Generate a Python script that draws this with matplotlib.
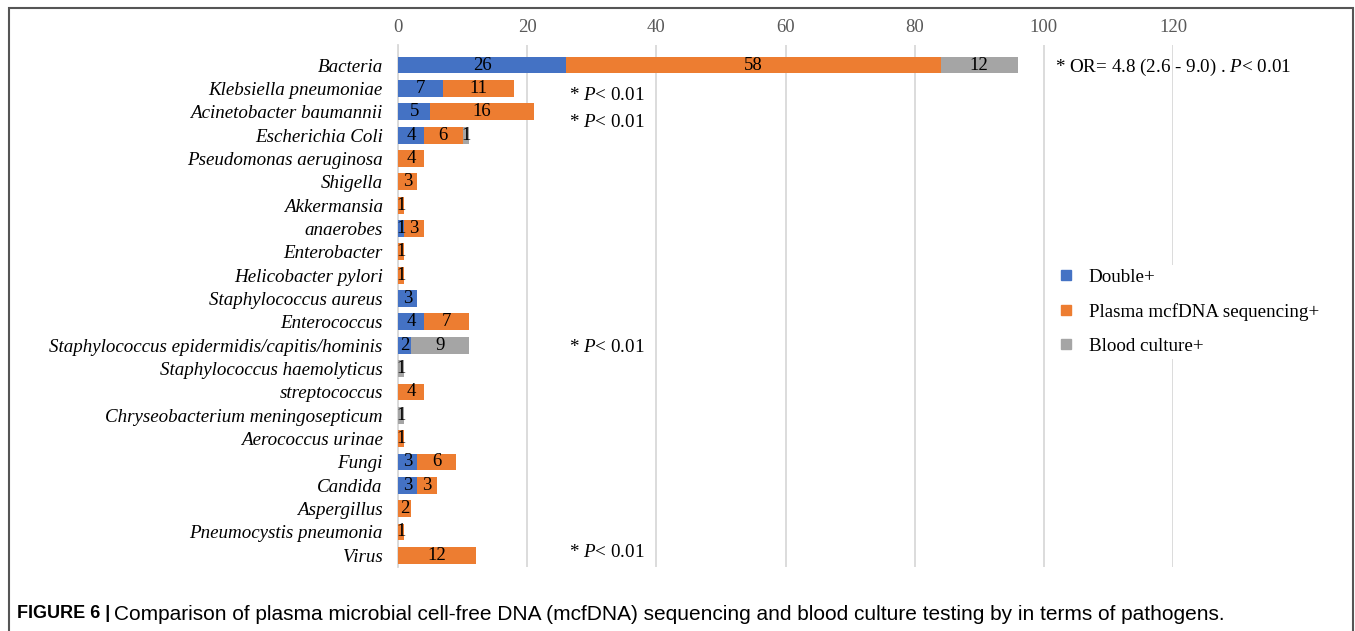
import numpy as np
import matplotlib.pyplot as plt
from matplotlib.patches import Rectangle
from matplotlib.lines import Line2D

pathogens = ['Bacteria', 'Klebsiella pneumoniae', 'Acinetobacter baumannii',
             'Escherichia Coli', 'Pseudomonas aeruginosa', 'Shigella', 'Akkermansia',
             'anaerobes', 'Enterobacter', 'Helicobacter pylori', 'Staphylococcus aureus',
             'Enterococcus', 'Staphylococcus epidermidis/capitis/hominis',
             'Staphylococcus haemolyticus', 'streptococcus',
             'Chryseobacterium meningosepticum', 'Aerococcus urinae', 'Fungi', 'Candida',
             'Aspergillus', 'Pneumocystis pneumonia', 'Virus']
double_pos = [26, 7, 5, 4, 0, 0, 0, 1, 0, 0, 3, 4, 2, 0, 0, 0, 0, 3, 3, 0, 0, 0]
mcfdna_pos = [58, 11, 16, 6, 4, 3, 1, 3, 1, 1, 0, 7, 0, 0, 4, 0, 1, 6, 3, 2, 1, 12]
culture_pos = [12, 0, 0, 1, 0, 0, 0, 0, 0, 0, 0, 0, 9, 1, 0, 1, 0, 0, 0, 0, 0, 0]
series_names = ['Double+', 'Plasma mcfDNA sequencing+', 'Blood culture+']
colors = ['#4472C4', '#ED7D31', '#A5A5A5']

sig_rows = ['Klebsiella pneumoniae', 'Acinetobacter baumannii',
            'Staphylococcus epidermidis/capitis/hominis', 'Virus']
sig_note = '* $\\it{P}$< 0.01'
or_note = '* OR= 4.8 (2.6 - 9.0) . $\\it{P}$< 0.01'

serif = 'Liberation Serif'
plt.rcParams['mathtext.fontset'] = 'custom'
plt.rcParams['mathtext.rm'] = serif
plt.rcParams['mathtext.it'] = serif + ':italic'

W, H = 1355, 631
fig = plt.figure(figsize=(W / 100, H / 100), dpi=100)
ax = fig.add_axes([398 / W, 1 - 567 / H, (1173 - 398) / W, (567 - 45) / H])

y = np.arange(len(pathogens))
left = np.zeros(len(pathogens))
for name, vals, c in zip(series_names, [double_pos, mcfdna_pos, culture_pos], colors):
    vals = np.array(vals)
    bars = ax.barh(y, vals, height=0.72, left=left, color=c, label=name, zorder=3)
    labels = [str(v) if v > 0 else '' for v in vals]
    ax.bar_label(bars, labels=labels, label_type='center', fontsize=13.5,
                 family=serif, color='black', zorder=4)
    left += vals

ax.set_xlim(0, 120)
ax.set_ylim(len(pathogens) - 0.5, -0.86)
ax.set_xticks(np.arange(0, 121, 20))
ax.xaxis.tick_top()
ax.tick_params(axis='x', length=0, pad=6.5, labelsize=13.5, labelcolor='#595959')
ax.tick_params(axis='y', length=0, pad=11)
ax.set_yticks(y)
ax.set_yticklabels(pathogens, fontsize=13.7, style='italic', family=serif)
for lbl in ax.get_xticklabels():
    lbl.set_family(serif)
ax.xaxis.grid(True, color='#D9D9D9', lw=1.3, zorder=0)
for s in ['top', 'right', 'bottom']:
    ax.spines[s].set_visible(False)
ax.spines['left'].set_color('#D9D9D9')
ax.spines['left'].set_linewidth(1.3)

# p-value notes beside rows
offsets = [0.3, 0.47, 0.1, -0.1]
for row, off in zip(sig_rows, offsets):
    ax.text(26.5, pathogens.index(row) + off, sig_note, fontsize=13.7,
            family=serif, va='center', ha='left')
ax.text(101.8, 0.1, or_note, fontsize=13.7, family=serif, va='center', ha='left')

handles = [Line2D([0], [0], marker='s', ls='', color=c, markersize=6.5) for c in colors]
leg = ax.legend(handles, series_names, loc='upper left', bbox_to_anchor=(1045 / W, 1 - 255 / H),
                bbox_transform=fig.transFigure, frameon=True, framealpha=1,
                edgecolor='none', prop={'family': serif, 'size': 13.7},
                handletextpad=0.8, labelspacing=0.9, borderpad=0.2, handlelength=0.8)

# outer frame around the chart
fig.patches.append(Rectangle((9 / W, -0.1), (1353 - 9) / W, 1.1 - 8 / H,
                             transform=fig.transFigure, fill=False,
                             edgecolor='#555555', lw=1.5))

fig.text(17 / W, 1 - 614 / H, 'FIGURE 6 |', fontsize=13, family='Liberation Sans',
         weight='bold', va='center', ha='left')
fig.text(114 / W, 1 - 614 / H,
         'Comparison of plasma microbial cell-free DNA (mcfDNA) sequencing and blood '
         'culture testing by in terms of pathogens.',
         fontsize=15, family='Liberation Sans', va='center', ha='left')

fig.savefig('out.png', dpi=100)
